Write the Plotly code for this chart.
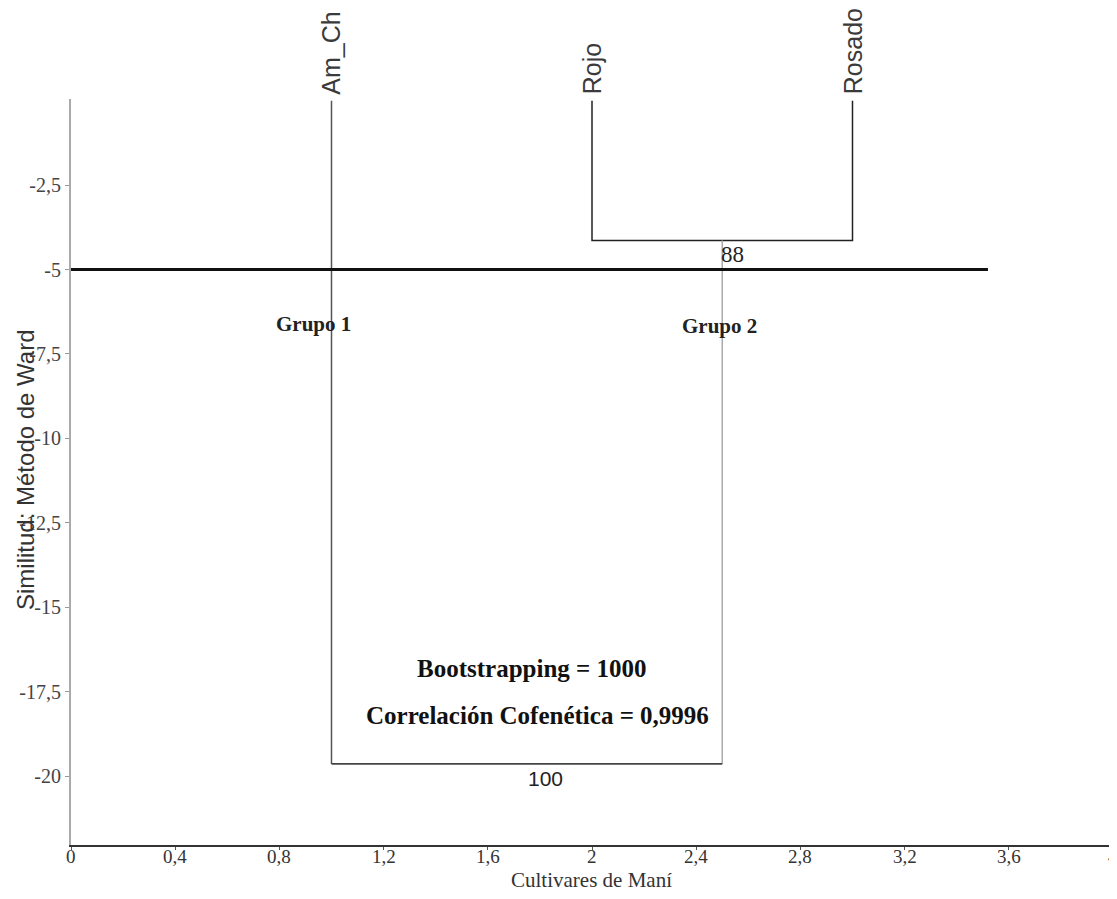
import plotly.graph_objects as go

# ---- data ----
leaves = ["Am_Ch", "Rojo", "Rosado"]
leaf_pos = [1, 2, 3]
leaf_top = 0
merge1_height = -4.14          # Rojo + Rosado
merge2_height = -19.64         # Am_Ch + (Rojo, Rosado)
bootstrap_labels = ["88", "100"]
cut_level = -5
cut_end = 3.52
group_labels = ["Grupo 1", "Grupo 2"]
x_ticks = [0, 0.4, 0.8, 1.2, 1.6, 2, 2.4, 2.8, 3.2, 3.6, 4]
x_tick_text = ["0", "0,4", "0,8", "1,2", "1,6", "2", "2,4", "2,8", "3,2", "3,6", "4"]
y_ticks = [-2.5, -5, -7.5, -10, -12.5, -15, -17.5, -20]
y_tick_text = ["-2,5", "-5", "-7,5", "-10", "-12,5", "-15", "-17,5", "-20"]
stats_text = ["Bootstrapping = 1000", "Correlación Cofenética = 0,9996"]

SERIF = "Liberation Serif, Times New Roman, serif"
SANS = "Liberation Sans, Arial, sans-serif"

fig = go.Figure()

def seg(xs, ys, color, width):
    fig.add_trace(go.Scatter(x=xs, y=ys, mode="lines",
                             line=dict(color=color, width=width),
                             hoverinfo="skip", showlegend=False))

node_mid = (leaf_pos[1] + leaf_pos[2]) / 2

# Rojo / Rosado bracket
seg([leaf_pos[1], leaf_pos[1], leaf_pos[2], leaf_pos[2]],
    [leaf_top, merge1_height, merge1_height, leaf_top], "#222222", 1.5)
# Am_Ch leaf down to final merge
seg([leaf_pos[0], leaf_pos[0]], [leaf_top, merge2_height], "#555555", 1.5)
# node from first merge down to final merge
seg([node_mid, node_mid], [merge1_height, merge2_height], "#aaaaaa", 1.5)
# final merge horizontal
seg([leaf_pos[0], node_mid], [merge2_height, merge2_height], "#444444", 1.8)
# cut line
seg([0, cut_end], [cut_level, cut_level], "#111111", 3)

# leaf labels
for name, xp in zip(leaves, leaf_pos):
    fig.add_annotation(x=xp, y=leaf_top, text=name, textangle=-90,
                       showarrow=False, xanchor="center", yanchor="bottom",
                       yshift=4, font=dict(family=SANS, size=25, color="#3a3a3a"))

# x tick labels (placed close to the axis, as in the original)
for xv, xt in zip(x_ticks, x_tick_text):
    fig.add_annotation(x=xv, y=0, yref="paper", text=xt, showarrow=False,
                       xanchor="center", yanchor="top", yshift=0, borderpad=0,
                       font=dict(family=SERIF, size=19, color="#333333"))

# bootstrap labels
fig.add_annotation(x=node_mid + 0.04, y=merge1_height - 0.42, text=bootstrap_labels[0],
                   showarrow=False, font=dict(family=SERIF, size=23, color="#222222"))
fig.add_annotation(x=1.82, y=merge2_height - 0.42, text=bootstrap_labels[1],
                   showarrow=False, font=dict(family=SANS, size=21, color="#222222"))

# group labels
fig.add_annotation(x=0.93, y=-6.6, text="<b>%s</b>" % group_labels[0], showarrow=False,
                   font=dict(family=SERIF, size=21, color="#222222"))
fig.add_annotation(x=2.49, y=-6.67, text="<b>%s</b>" % group_labels[1], showarrow=False,
                   font=dict(family=SERIF, size=21, color="#222222"))

# statistics
fig.add_annotation(x=1.77, y=-16.8, text="<b>%s</b>" % stats_text[0], showarrow=False,
                   font=dict(family=SERIF, size=25, color="#111111"))
fig.add_annotation(x=1.79, y=-18.2, text="<b>%s</b>" % stats_text[1], showarrow=False,
                   font=dict(family=SERIF, size=25, color="#111111"))

# axis titles
fig.add_annotation(xref="paper", yref="paper", x=(25 - 71) / 1042, y=(845 - 470) / 746,
                   text="Similitud: Método de Ward", textangle=-90, showarrow=False,
                   xanchor="center", yanchor="middle",
                   font=dict(family=SANS, size=24, color="#333333"))
fig.add_annotation(xref="paper", yref="paper", x=(591 - 71) / 1042, y=(845 - 880) / 746,
                   text="Cultivares de Maní", showarrow=False, borderpad=0,
                   xanchor="center", yanchor="middle",
                   font=dict(family=SERIF, size=21, color="#333333"))

# the page body adds an 8px offset, so the figure is 8px smaller
fig.update_layout(
    width=1109, height=891,
    margin=dict(l=63, r=4, t=91, b=54),
    paper_bgcolor="white", plot_bgcolor="white",
    showlegend=False,
    xaxis=dict(range=[0, 4], tickvals=x_ticks, showticklabels=False,
               automargin=False,
               showgrid=False, zeroline=False, showline=True,
               linecolor="#333333", linewidth=2, ticks="outside",
               ticklen=3, tickcolor="#555555"),
    yaxis=dict(range=[-22.04, 0.05], tickvals=y_ticks, ticktext=y_tick_text,
               automargin=False,
               showgrid=False, zeroline=False, showline=True,
               linecolor="#aaaaaa", linewidth=2, ticks="outside",
               ticklen=4, tickcolor="#999999",
               tickfont=dict(family=SERIF, size=20, color="#444444")),
)

fig.write_html("out.html")
